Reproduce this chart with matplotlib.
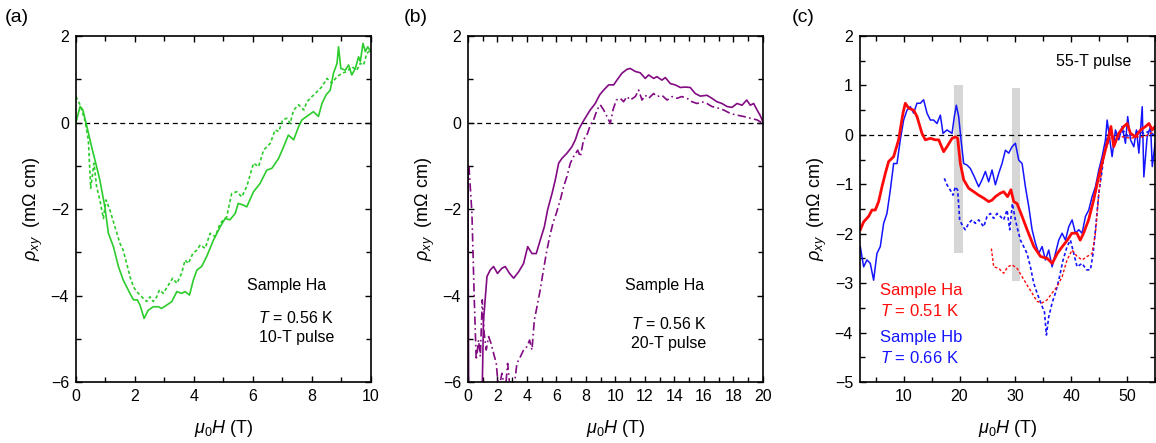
import numpy as np
import matplotlib.pyplot as plt
from matplotlib.ticker import MultipleLocator

plt.rcParams['font.family'] = ['Liberation Sans', 'DejaVu Sans']
plt.rcParams['mathtext.fontset'] = 'custom'
plt.rcParams['mathtext.rm'] = 'Liberation Sans'
plt.rcParams['mathtext.it'] = 'Liberation Sans:italic'

# ---- panel (a): 10-T pulse, sample Ha ----
a_up_H = [0, 0.14, 0.23, 0.36, 0.53, 0.70, 0.81, 0.98, 1.1, 1.27, 1.44, 1.6, 1.83, 1.95, 2.08, 2.17,
          2.31, 2.45, 2.62, 2.8, 2.9, 3.08, 3.25, 3.42, 3.58, 3.7, 3.85, 3.98, 4.1, 4.26, 4.43, 4.66,
          4.89, 5.06, 5.22, 5.4, 5.5, 5.68, 5.79, 6.02, 6.24, 6.47, 6.64, 6.87, 7.04, 7.2, 7.38, 7.55,
          7.66, 7.88, 8.05, 8.22, 8.34, 8.48, 8.62, 8.73, 8.85, 8.9, 8.98, 9.13, 9.24, 9.35, 9.47,
          9.58, 9.64, 9.73, 9.81, 9.89, 10.0]
a_up_rho = [0.0, 0.37, 0.3, -0.06, -0.56, -1.02, -1.33, -1.95, -2.56, -2.87, -3.33, -3.64, -3.95, -4.1,
            -4.1, -4.22, -4.53, -4.34, -4.26, -4.26, -4.3, -4.22, -4.14, -3.91, -3.95, -3.91, -3.99,
            -3.64, -3.41, -3.33, -3.10, -2.72, -2.41, -2.22, -2.25, -2.1, -1.87, -1.91, -1.95, -1.6,
            -1.41, -1.1, -1.06, -0.83, -0.56, -0.29, -0.4, -0.09, 0.06, 0.17, 0.25, 0.14, 0.44, 0.64,
            0.75, 1.14, 1.37, 1.75, 1.25, 1.21, 1.33, 1.1, 1.25, 1.52, 1.41, 1.83, 1.64, 1.75, 1.64]
a_dn_H = [0, 0.14, 0.3, 0.42, 0.5, 0.61, 0.7, 0.81, 0.93, 1.02, 1.15, 1.32, 1.49, 1.6, 1.72, 1.83, 1.95,
          2.06, 2.23, 2.4, 2.51, 2.62, 2.74, 2.83, 2.96, 3.13, 3.28, 3.42, 3.58, 3.7, 3.81, 3.96, 4.1,
          4.21, 4.38, 4.55, 4.72, 4.89, 5.11, 5.28, 5.45, 5.62, 5.79, 6.02, 6.19, 6.36, 6.59, 6.75,
          6.87, 7.01, 7.15, 7.26, 7.38, 7.55, 7.72, 7.83, 8.0, 8.17, 8.34, 8.51, 8.67, 8.85, 9.02,
          9.19, 9.35, 9.52, 9.64, 9.75, 9.86, 10.0]
a_dn_rho = [0.6, 0.41, 0.06, -0.4, -1.52, -0.94, -1.48, -1.79, -2.22, -1.79, -2.02, -2.41, -2.79, -2.95,
            -3.26, -3.56, -3.8, -3.91, -4.03, -4.14, -4.03, -4.14, -4.03, -3.87, -3.95, -3.76, -3.6,
            -3.72, -3.49, -3.18, -3.26, -3.03, -2.95, -2.83, -2.91, -2.56, -2.64, -2.33, -2.18, -1.64,
            -1.6, -1.72, -1.48, -0.94, -1.02, -0.64, -0.48, -0.17, -0.21, 0.06, 0.1, -0.02, 0.29, 0.41,
            0.29, 0.48, 0.6, 0.71, 0.83, 1.02, 0.91, 1.06, 1.14, 1.18, 1.29, 1.21, 1.37, 1.33, 1.6, 1.68]

# ---- panel (b): 20-T pulse, sample Ha ----
b_up_H = [0, 0.05, 0.95, 1.05, 1.29, 1.51, 1.74, 2.0, 2.3, 2.53, 2.82, 3.1, 3.44, 3.77, 4.05, 4.34,
          4.63, 4.9, 5.18, 5.4, 5.7, 5.92, 6.15, 6.37, 6.71, 7.05, 7.28, 7.5, 7.73, 8.07, 8.29, 8.63,
          8.93, 9.2, 9.54, 9.88, 10.1, 10.44, 10.78, 11.0, 11.35, 11.68, 12.02, 12.25, 12.59, 12.81,
          13.15, 13.38, 13.72, 14.05, 14.4, 14.73, 15.07, 15.41, 15.75, 16.2, 16.54, 16.88, 17.22,
          17.56, 17.9, 18.24, 18.58, 18.9, 19.14, 19.37, 19.6, 19.8, 20.0]
b_up_rho = [-1.0, -6.5, -6.5, -4.6, -3.56, -3.41, -3.33, -3.49, -3.37, -3.33, -3.49, -3.6, -3.45, -3.26,
            -2.87, -3.03, -3.03, -2.72, -2.41, -2.02, -1.64, -1.33, -0.94, -0.83, -0.71, -0.56, -0.4,
            -0.17, -0.02, 0.17, 0.29, 0.44, 0.64, 0.75, 0.87, 0.87, 0.98, 1.14, 1.23, 1.25, 1.18, 1.15,
            1.02, 1.1, 1.02, 1.06, 0.98, 1.04, 0.9, 0.87, 0.81, 0.82, 0.81, 0.67, 0.61, 0.63, 0.56,
            0.48, 0.44, 0.37, 0.35, 0.44, 0.4, 0.52, 0.4, 0.44, 0.29, 0.17, 0.02]
b_dn_H = [0.07, 0.27, 0.43, 0.56, 0.72, 0.84, 0.97, 1.1, 1.24, 1.4, 1.56, 1.74, 1.92, 2.08, 2.3, 2.53,
          2.69, 2.87, 3.1, 3.32, 3.55, 3.77, 4.0, 4.18, 4.34, 4.5, 4.68, 4.9, 5.08, 5.31, 5.54, 5.76,
          5.99, 6.26, 6.49, 6.71, 6.94, 7.16, 7.44, 7.62, 7.84, 8.11, 8.29, 8.52, 8.75, 8.97, 9.2,
          9.42, 9.65, 9.83, 10.06, 10.33, 10.55, 10.78, 11.0, 11.35, 11.57, 11.8, 12.02, 12.25, 12.59,
          12.81, 13.15, 13.5, 13.84, 14.17, 14.5, 14.85, 15.19, 15.53, 15.86, 16.2, 16.54, 17.0,
          17.33, 17.79, 18.24, 18.69, 19.14, 19.6, 20.0]
b_dn_rho = [-1.02, -2.1, -4.1, -5.49, -5.03, -5.41, -4.1, -4.87, -5.26, -4.95, -5.1, -5.34, -5.57, -6.2,
            -5.8, -6.2, -5.57, -6.2, -6.2, -5.57, -5.42, -5.26, -5.18, -5.03, -5.26, -4.57, -4.26,
            -3.87, -3.49, -3.03, -2.64, -2.33, -2.1, -1.79, -1.48, -1.25, -0.94, -0.79, -0.64, -0.79,
            -0.4, -0.25, -0.06, 0.06, 0.29, 0.41, 0.29, 0.14, -0.02, 0.29, 0.52, 0.56, 0.48, 0.6, 0.52,
            0.6, 0.75, 0.52, 0.63, 0.56, 0.67, 0.6, 0.63, 0.52, 0.6, 0.56, 0.6, 0.56, 0.48, 0.44, 0.48,
            0.44, 0.37, 0.33, 0.29, 0.21, 0.17, 0.14, 0.1, 0.06, -0.02]

# ---- panel (c): 55-T pulse ----
ha_up_H = [2.24, 2.84, 3.73, 4.33, 4.93, 5.52, 6.12, 6.72, 7.31, 8.21, 9.1, 9.88, 10.3, 10.9, 11.8,
           12.39, 13.28, 13.88, 14.78, 15.67, 16.27, 17.16, 17.76, 18.66, 19.25, 19.67, 20.15, 20.75,
           21.64, 22.54, 23.43, 24.33, 25.22, 25.82, 26.42, 27.31, 27.9, 28.6, 29.2, 29.7, 30.3, 31.2,
           32.1, 33.3, 34.5, 35.7, 36.6, 37.5, 38.4, 39.3, 40.1, 41.0, 41.6, 42.2, 43.1, 44.0, 44.9,
           45.8, 46.7, 47.1, 47.6, 48.5, 49.4, 50.0, 50.6, 51.5, 52.4, 53.3, 53.9, 54.5, 55.0]
ha_up_rho = [-1.92, -1.76, -1.65, -1.52, -1.52, -1.35, -1.05, -0.78, -0.54, -0.44, -0.1, 0.44, 0.64,
             0.54, 0.5, 0.37, 0.03, -0.1, -0.07, -0.1, -0.1, -0.34, -0.24, -0.07, -0.04, -0.07, -0.58,
             -0.91, -1.08, -1.15, -1.22, -1.28, -1.35, -1.32, -1.25, -1.18, -1.15, -1.25, -1.11, -1.35,
             -1.39, -1.65, -1.92, -2.26, -2.46, -2.5, -2.6, -2.4, -2.26, -2.13, -1.99, -1.99, -2.13,
             -1.99, -1.72, -1.32, -0.85, -0.44, -0.04, 0.17, -0.24, 0.03, 0.17, 0.23, 0.03, -0.04, 0.1,
             0.17, 0.23, 0.1, 0.17]
hb_up_H = [2.24, 2.84, 3.43, 4.03, 4.63, 5.22, 5.82, 6.42, 7.01, 7.61, 8.21, 8.81, 9.4, 10.0, 10.6,
           11.19, 11.79, 12.39, 12.99, 13.58, 14.18, 14.78, 15.37, 15.97, 16.57, 17.04, 17.76, 18.66,
           19.07, 19.43, 19.85, 20.27, 20.75, 21.34, 21.94, 22.66, 23.43, 24.03, 24.63, 25.22, 25.82,
           26.42, 27.01, 27.61, 28.21, 28.81, 29.4, 30.0, 30.6, 31.2, 31.79, 32.39, 32.99, 33.58,
           34.18, 34.78, 35.37, 35.97, 36.57, 37.16, 37.76, 38.36, 38.96, 39.55, 40.15, 40.75, 41.34,
           41.94, 42.54, 43.13, 43.73, 44.33, 44.93, 45.52, 46.12, 46.42, 46.9, 47.31, 47.91, 48.51,
           49.1, 49.7, 50.1, 50.6, 51.2, 51.67, 52.1, 52.7, 52.99, 53.58, 54.2, 54.5, 55.0]
hb_up_rho = [-2.26, -2.67, -2.53, -2.6, -2.94, -2.4, -2.26, -1.79, -1.59, -1.12, -0.58, -0.58, -0.1,
             0.3, 0.5, 0.57, 0.44, 0.64, 0.64, 0.71, 0.44, 0.3, 0.3, 0.23, 0.4, 0.03, 0.1, 0.03, 0.37,
             0.6, 0.37, -0.1, -0.58, -0.61, -0.68, -0.85, -1.05, -0.91, -0.74, -0.95, -0.71, -1.01,
             -0.78, -0.58, -0.31, -0.37, -0.24, -0.17, -0.51, -0.58, -1.05, -1.45, -1.92, -2.19, -2.4,
             -2.26, -2.53, -2.33, -2.67, -2.4, -2.13, -1.99, -2.13, -1.86, -1.72, -1.99, -1.92, -1.99,
             -1.65, -1.52, -1.25, -1.05, -0.71, -0.44, -0.1, 0.3, -0.1, -0.44, 0.1, -0.1, 0.17, -0.17,
             0.37, -0.1, -0.24, 0.1, -0.37, 0.57, -0.85, -0.04, 0.17, -0.64, -0.17]
hb_dn_H = [17.28, 17.76, 18.36, 18.84, 19.25, 19.67, 20.03, 20.63, 21.04, 21.64, 22.24, 22.84, 23.43,
           24.33, 24.93, 25.52, 26.12, 26.72, 27.31, 27.9, 28.51, 28.99, 29.46, 30.0, 30.42, 30.9,
           31.49, 32.09, 32.69, 33.28, 33.88, 34.78, 35.2, 35.55, 35.97, 36.57, 37.16, 37.76, 38.54,
           39.25, 39.85, 40.45, 41.04, 41.94, 42.72, 43.43, 43.91, 44.33, 44.93, 45.52, 46.12, 46.72,
           47.61, 48.51, 49.4, 50.3, 51.2, 52.1, 52.99, 53.88, 54.78]
hb_dn_rho = [-0.88, -1.01, -1.12, -1.22, -1.05, -1.12, -1.72, -1.86, -1.92, -1.79, -1.72, -1.79, -1.72,
             -1.86, -1.65, -1.59, -1.69, -1.59, -1.65, -1.72, -1.52, -1.92, -1.39, -1.72, -1.92, -2.13,
             -2.26, -2.4, -2.67, -3.0, -3.2, -3.47, -3.58, -4.05, -3.68, -3.4, -3.2, -2.94, -2.53,
             -2.26, -2.13, -2.4, -2.67, -2.6, -2.73, -2.73, -2.4, -1.92, -1.18, -0.71, -0.17, 0.03,
             -0.04, 0.03, 0.07, -0.04, 0.03, 0.07, 0.03, 0.07, 0.0]
ha_dn_H = [25.7, 26.12, 27.01, 27.9, 28.63, 29.4, 30.3, 31.2, 32.1, 32.99, 33.88, 34.78, 35.67, 36.57,
           37.46, 38.36, 39.25, 40.15, 41.04, 41.94, 42.84, 43.73, 44.33, 44.93, 45.52, 46.12, 47.01,
           48.2, 49.4, 50.6, 51.8, 52.99, 54.18, 55.0]
ha_dn_rho = [-2.3, -2.67, -2.7, -2.8, -2.67, -2.63, -2.7, -2.87, -3.04, -3.2, -3.37, -3.4, -3.34, -3.2,
             -3.07, -2.87, -2.53, -2.33, -2.46, -2.53, -2.46, -2.4, -1.99, -1.18, -0.64, -0.31, -0.04,
             -0.04, -0.04, -0.07, -0.04, -0.04, 0.03, 0.07]
# shaded field windows (T) and their vertical extent
band_H = [(19.07, 20.63), (29.34, 30.9)]
band_rho = [(-2.4, 1.01), (-2.96, 0.94)]

green = '#2ccc2c'
purple = '#820a82'
red = '#ff0a0a'
blue = '#1414ff'


def style_axes(ax, xlim, ylim, xmaj, xmin, ymaj, ymin):
    ax.set_xlim(*xlim)
    ax.set_ylim(*ylim)
    ax.xaxis.set_major_locator(MultipleLocator(xmaj))
    ax.xaxis.set_minor_locator(MultipleLocator(xmin))
    ax.yaxis.set_major_locator(MultipleLocator(ymaj))
    ax.yaxis.set_minor_locator(MultipleLocator(ymin))
    ax.tick_params(which='both', direction='in', top=True, right=True, labelsize=11.5, width=1.0)
    ax.tick_params(which='major', length=4.5, pad=5)
    ax.tick_params(which='minor', length=3.5)
    for s in ax.spines.values():
        s.set_linewidth(1.2)
    ax.axhline(0, color='black', lw=0.9, ls=(0, (4, 3)), zorder=1)
    ax.set_xlabel(r'$\mu_0H$ (T)', fontsize=13, labelpad=10)
    ax.set_ylabel(r'$\rho_{xy}$  (m$\Omega$ cm)', fontsize=13, labelpad=4)


fig = plt.figure(figsize=(11.56, 4.43), dpi=100)
w, h, bot = 0.2552, 0.781, 0.1377
ax_a = fig.add_axes([0.0657, bot, w, h])
ax_b = fig.add_axes([0.4048, bot, w, h])
ax_c = fig.add_axes([0.744, bot, w, h])

# (a)
style_axes(ax_a, (0, 10), (-6, 2), 2, 1, 2, 1)
ax_a.plot(a_up_H, a_up_rho, color=green, lw=1.2)
ax_a.plot(a_dn_H, a_dn_rho, color=green, lw=1.2, ls=(0, (2, 1.5)))
ax_a.text(7.13, -3.76, 'Sample Ha', fontsize=11.5, ha='center', va='center')
ax_a.text(7.47, -4.53, r'$T$ = 0.56 K', fontsize=11.5, ha='center', va='center')
ax_a.text(7.47, -4.97, '10-T pulse', fontsize=11.5, ha='center', va='center')

# (b)
style_axes(ax_b, (0, 20), (-6, 2), 2, 1, 2, 1)
ax_b.plot(b_up_H, b_up_rho, color=purple, lw=1.2)
ax_b.plot(b_dn_H, b_dn_rho, color=purple, lw=1.2, ls=(0, (5, 2, 1, 2)))
ax_b.text(13.3, -3.77, 'Sample Ha', fontsize=11.5, ha='center', va='center')
ax_b.text(13.6, -4.66, r'$T$ = 0.56 K', fontsize=11.5, ha='center', va='center')
ax_b.text(13.6, -5.1, '20-T pulse', fontsize=11.5, ha='center', va='center')

# (c)
style_axes(ax_c, (2.2, 55), (-5, 2), 10, 5, 1, 0.5)
for (h0, h1), (r0, r1) in zip(band_H, band_rho):
    ax_c.fill_between([h0, h1], r0, r1, color='#d6d6d6', lw=0, zorder=0)
ax_c.plot(hb_up_H, hb_up_rho, color=blue, lw=1.1)
ax_c.plot(hb_dn_H, hb_dn_rho, color=blue, lw=1.2, ls=(0, (2, 1.5)))
ax_c.plot(ha_dn_H, ha_dn_rho, color=red, lw=1.0, ls=(0, (2, 1.5)))
ax_c.plot(ha_up_H, ha_up_rho, color=red, lw=2.0)
ax_c.text(44.1, 1.49, '55-T pulse', fontsize=11.5, ha='center', va='center')
ax_c.text(5.8, -3.15, 'Sample Ha', fontsize=12, color=red, ha='left', va='center')
ax_c.text(5.8, -3.56, r'$T$ = 0.51 K', fontsize=12, color=red, ha='left', va='center')
ax_c.text(5.8, -4.1, 'Sample Hb', fontsize=12, color=blue, ha='left', va='center')
ax_c.text(5.8, -4.51, r'$T$ = 0.66 K', fontsize=12, color=blue, ha='left', va='center')

fig.text(5 / 1156, 1 - 17 / 443, '(a)', fontsize=14, va='center')
fig.text(404 / 1156, 1 - 17 / 443, '(b)', fontsize=14, va='center')
fig.text(792 / 1156, 1 - 17 / 443, '(c)', fontsize=14, va='center')

fig.savefig('out.png', dpi=100)
